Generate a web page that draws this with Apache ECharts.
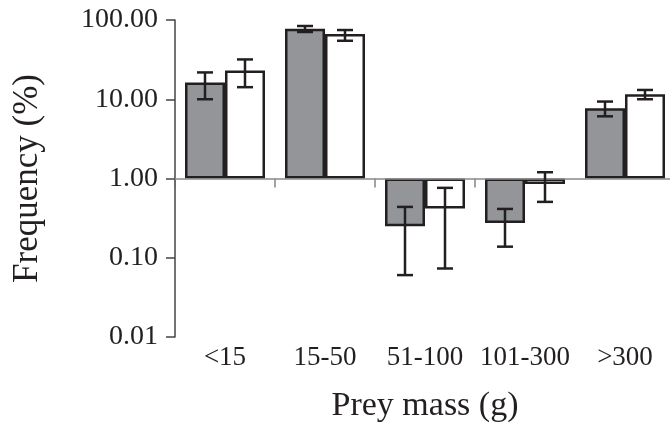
<!DOCTYPE html>
<html><head><meta charset="utf-8">
<script src="https://cdn.jsdelivr.net/npm/echarts@6/dist/echarts.min.js"></script>
<style>html,body{margin:0;padding:0;background:#fff}#c{width:670px;height:423px}</style>
</head><body><div id="c"></div>
<script>
const categories = ['<15', '15-50', '51-100', '101-300', '>300'];
const yTickLabels = ['0.01', '0.10', '1.00', '10.00', '100.00'];
const grayValues = [16.3, 77.6, 0.249, 0.275, 7.69];
const grayErrLow = [10.0, 70.6, 0.0604, 0.138, 6.09];
const grayErrHigh = [21.8, 84.0, 0.438, 0.413, 9.35];
const whiteValues = [23.1, 66.5, 0.417, 0.855, 11.57];
const whiteErrLow = [14.2, 54.7, 0.0732, 0.507, 10.0];
const whiteErrHigh = [31.8, 74.7, 0.762, 1.20, 13.1];

const FONT = '"Liberation Serif","Times New Roman",serif';
const INK = '#231f20';
const BAR_W = 40;

const errData = [];
categories.forEach((c, i) => {
  errData.push([i, grayErrLow[i], grayErrHigh[i], -1]);
  errData.push([i, whiteErrLow[i], whiteErrHigh[i], 1]);
});

const chart = echarts.init(document.getElementById('c'), null, {renderer: 'canvas'});
chart.setOption({
  animation: false,
  backgroundColor: '#fff',
  grid: {left: 175, right: -5, top: 20, bottom: 86, containLabel: false, outerBoundsMode: 'none'},
  xAxis: {
    type: 'category',
    data: categories,
    axisLine: {show: false},
    axisTick: {show: false},
    axisLabel: {fontFamily: FONT, fontSize: 27, color: INK, margin: 7, interval: 0},
    name: 'Prey mass (g)',
    nameLocation: 'middle',
    nameGap: 52,
    nameTextStyle: {fontFamily: FONT, fontSize: 34, color: INK}
  },
  yAxis: {
    type: 'log',
    logBase: 10,
    min: 0.01,
    max: 100,
    interval: 1,
    splitLine: {show: false},
    axisLine: {show: true, lineStyle: {color: '#444', width: 1.5}},
    axisTick: {show: true, length: 9, lineStyle: {color: '#444', width: 1.5}},
    axisLabel: {
      fontFamily: FONT, fontSize: 28, color: INK, margin: 17,
      formatter: function (v) {
        const idx = Math.round(Math.log10(v)) + 2;
        return yTickLabels[idx] !== undefined ? yTickLabels[idx] : '';
      }
    },
    name: 'Frequency (%)',
    nameLocation: 'middle',
    nameGap: 130,
    nameTextStyle: {fontFamily: FONT, fontSize: 35, color: INK}
  },
  series: [
    {
      type: 'bar',
      data: grayValues,
      barWidth: BAR_W,
      barGap: '0%',
      itemStyle: {color: '#939598', borderColor: INK, borderWidth: 2.5},
      markLine: {
        silent: true, symbol: 'none', label: {show: false},
        lineStyle: {color: '#8a8a8a', width: 1.5, type: 'solid'},
        data: [{yAxis: 1}]
      },
      z: 3
    },
    {
      type: 'bar',
      data: whiteValues,
      barWidth: BAR_W,
      barGap: '0%',
      itemStyle: {color: '#ffffff', borderColor: INK, borderWidth: 2.5},
      z: 3
    },
    {
      type: 'custom',
      data: errData,
      z: 5,
      renderItem: function (params, api) {
        const i = api.value(0);
        const side = api.value(3);
        const lo = api.coord([i, api.value(1)]);
        const hi = api.coord([i, api.value(2)]);
        const x = lo[0] + side * BAR_W / 2;
        const cap = 8;
        const style = {stroke: INK, lineWidth: 2.5, fill: null};
        return {
          type: 'group',
          children: [
            {type: 'line', shape: {x1: x, y1: lo[1], x2: x, y2: hi[1]}, style: style},
            {type: 'line', shape: {x1: x - cap, y1: lo[1], x2: x + cap, y2: lo[1]}, style: style},
            {type: 'line', shape: {x1: x - cap, y1: hi[1], x2: x + cap, y2: hi[1]}, style: style}
          ]
        };
      }
    },
    {
      type: 'custom',
      data: [1, 2, 3, 4],
      z: 2,
      renderItem: function (params, api) {
        const i = api.value(0);
        const p = api.coord([i, 1]);
        const bw = api.size([1, 0])[0];
        const x = p[0] - bw / 2;
        return {
          type: 'line',
          shape: {x1: x, y1: p[1], x2: x, y2: p[1] + 9},
          style: {stroke: '#666', lineWidth: 1.2}
        };
      }
    }
  ]
});
</script>
</body></html>
